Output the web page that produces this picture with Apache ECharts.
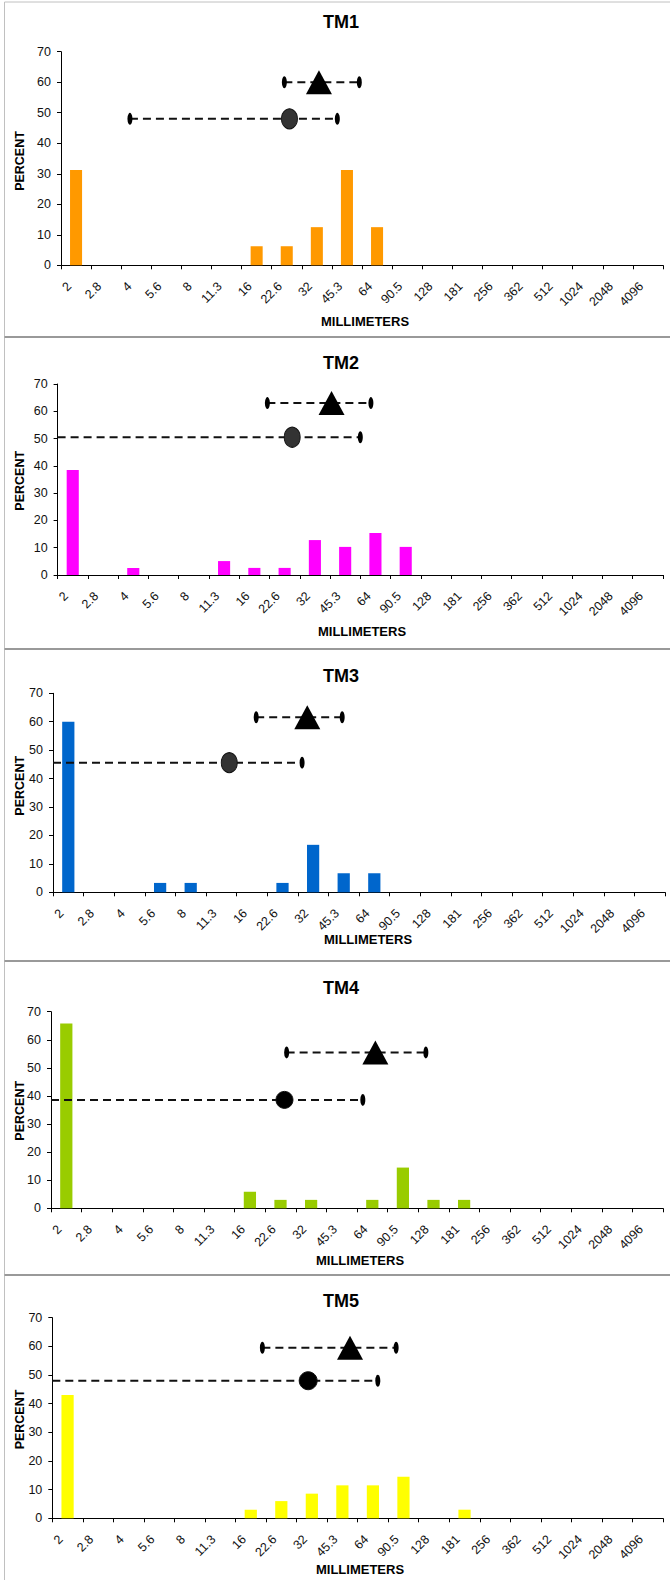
<!DOCTYPE html>
<html>
<head>
<meta charset="utf-8">
<script src="https://cdn.jsdelivr.net/npm/echarts@6/dist/echarts.min.js"></script>
<style>
html,body{margin:0;padding:0;background:#fff;}
#chart{width:670px;height:1580px;}
</style>
</head>
<body>
<div id="chart"></div>
<script>
// ---------- DATA ----------
const categories = ['2','2.8','4','5.6','8','11.3','16','22.6','32','45.3','64','90.5','128','181','256','362','512','1024','2048','4096'];
const panelTitles = ['TM1','TM2','TM3','TM4','TM5'];
const yAxisTitle = 'PERCENT';
const xAxisTitle = 'MILLIMETERS';

const tm1Percent = [31.25,0,0,0,0,0,6.25,6.25,12.5,31.25,12.5,0,0,0,0,0,0,0,0,0];
const tm2Percent = [38.5,0,2.6,0,0,5.1,2.6,2.6,12.8,10.3,15.4,10.3,0,0,0,0,0,0,0,0];
const tm3Percent = [60,0,0,3.3,3.3,0,0,3.3,16.7,6.7,6.7,0,0,0,0,0,0,0,0,0];
const tm4Percent = [65.8,0,0,0,0,0,5.9,3.0,3.0,0,3.0,14.5,3.0,3.0,0,0,0,0,0,0];
const tm5Percent = [43.0,0,0,0,0,0,3.0,6.0,8.6,11.5,11.5,14.5,0,3.0,0,0,0,0,0,0];

// markers: [position in size-class units along the axis, percent]
const tm1Triangle = [8.57, 60.0];  const tm1TriangleRange = [7.42, 9.91];
const tm1Circle   = [7.59, 48.0];  const tm1CircleRange   = [2.29, 9.18];
const tm2Triangle = [9.05, 63.0];  const tm2TriangleRange = [6.93, 10.35];
const tm2Circle   = [7.75, 50.5];  const tm2CircleRange   = [0, 10.0];
const tm3Triangle = [8.31, 61.6];  const tm3TriangleRange = [6.64, 9.45];
const tm3Circle   = [5.76, 45.6];  const tm3CircleRange   = [0, 8.14];
const tm4Triangle = [10.6, 55.5];  const tm4TriangleRange = [7.7, 12.25];
const tm4Circle   = [7.63, 38.6];  const tm4CircleRange   = [0, 10.19];
const tm5Triangle = [9.75, 59.5];  const tm5TriangleRange = [6.88, 11.26];
const tm5Circle   = [8.38, 48.0];  const tm5CircleRange   = [0, 10.66];

// ---------- STYLE / LAYOUT ----------
const percentSets = [tm1Percent, tm2Percent, tm3Percent, tm4Percent, tm5Percent];
const triangles = [tm1Triangle, tm2Triangle, tm3Triangle, tm4Triangle, tm5Triangle];
const triangleRanges = [tm1TriangleRange, tm2TriangleRange, tm3TriangleRange, tm4TriangleRange, tm5TriangleRange];
const circles = [tm1Circle, tm2Circle, tm3Circle, tm4Circle, tm5Circle];
const circleRanges = [tm1CircleRange, tm2CircleRange, tm3CircleRange, tm4CircleRange, tm5CircleRange];

const barColors = ['#FF9900','#FF00FF','#0066CC','#99CC00','#FFFF00'];
const circleColors = ['#333333','#333333','#333333','#000000','#000000'];
const circleSizes = [[16,20],[16,20],[16,20],[17,17],[18,18]];
const layout = [
  {left:61,   top:51.7,   width:602,   height:213.6, titleY:22,     yNameY:161,    xNameX:365, xNameY:321.7},
  {left:57.6, top:384,    width:605.4, height:191,   titleY:363.3,  yNameY:480.8,  xNameX:362, xNameY:631.7},
  {left:53,   top:693.3,  width:612,   height:199,   titleY:675.5,  yNameY:785.8,  xNameX:368, xNameY:939.3},
  {left:51,   top:1011.7, width:612,   height:196.6, titleY:988,    yNameY:1110.8, xNameX:360, xNameY:1260},
  {left:52.3, top:1317.7, width:610.7, height:200.6, titleY:1300.8, yNameY:1419.5, xNameX:360, xNameY:1569}
];
const FONT = '"Liberation Sans", Arial, sans-serif';

const grids = [], xAxes = [], yAxes = [], series = [], graphics = [];

layout.forEach((L, i) => {
  grids.push({left:L.left, top:L.top, width:L.width, height:L.height, containLabel:false});
  // category axis
  xAxes.push({
    type:'category', gridIndex:i, data:categories, boundaryGap:true,
    axisLine:{show:true, lineStyle:{color:'#000', width:1}},
    axisTick:{show:true, alignWithLabel:false, length:4, lineStyle:{color:'#000'}},
    axisLabel:{interval:0, rotate:45, margin:21.5, fontSize:12.5, color:'#111', fontFamily:FONT,
               verticalAlign:'bottom', padding:[0,3,0,0]},
    splitLine:{show:false}
  });
  // hidden value axis for markers (same extent as categories)
  xAxes.push({
    type:'value', gridIndex:i, min:0, max:20, show:false, splitLine:{show:false}
  });
  yAxes.push({
    type:'value', gridIndex:i, min:0, max:70, interval:10,
    axisLine:{show:true, lineStyle:{color:'#000', width:1}},
    axisTick:{show:true, length:4, lineStyle:{color:'#000'}},
    axisLabel:{margin:10, fontSize:12.5, color:'#111', fontFamily:FONT},
    splitLine:{show:false}
  });

  series.push({
    type:'bar', xAxisIndex:2*i, yAxisIndex:i, data:percentSets[i],
    barWidth:'40%', itemStyle:{color:barColors[i]}, silent:true, z:2
  });

  const dash = {color:'#111', width:2, type:[8,5]};
  const addRange = (range, yv) => {
    series.push({
      type:'line', xAxisIndex:2*i+1, yAxisIndex:i,
      data:[[range[0], yv],[range[1], yv]],
      showSymbol:false, symbol:'none', lineStyle:dash, silent:true, z:3, clip:false
    });
    const caps = range.filter(v => v > 0).map(v => [v, yv]);
    series.push({
      type:'scatter', xAxisIndex:2*i+1, yAxisIndex:i, data:caps,
      symbol:'circle', symbolSize:[5,12], itemStyle:{color:'#000', opacity:1}, silent:true, z:4
    });
  };
  addRange(triangleRanges[i], triangles[i][1]);
  addRange(circleRanges[i], circles[i][1]);

  series.push({
    type:'scatter', xAxisIndex:2*i+1, yAxisIndex:i, data:[triangles[i]],
    symbol:'triangle', symbolSize:[26,24], itemStyle:{color:'#000', opacity:1}, silent:true, z:5
  });
  series.push({
    type:'scatter', xAxisIndex:2*i+1, yAxisIndex:i, data:[circles[i]],
    symbol:'circle', symbolSize:circleSizes[i], itemStyle:{color:circleColors[i], opacity:1, borderColor:'#111', borderWidth:1}, silent:true, z:5
  });

  graphics.push({
    type:'text', x:341, y:L.titleY,
    style:{text:panelTitles[i], font:'bold 18px ' + FONT, fill:'#000', align:'center', verticalAlign:'middle'}
  });
  graphics.push({
    type:'text', x:19.5, y:L.yNameY, rotation:Math.PI/2,
    style:{text:yAxisTitle, font:'bold 12.5px ' + FONT, fill:'#000', align:'center', verticalAlign:'middle'}
  });
  graphics.push({
    type:'text', x:L.xNameX, y:L.xNameY,
    style:{text:xAxisTitle, font:'bold 13px ' + FONT, fill:'#000', align:'center', verticalAlign:'middle'}
  });
});

// panel frames
graphics.push({type:'line', shape:{x1:4.5, y1:2, x2:670, y2:2}, style:{stroke:'#c0c0c0', lineWidth:1}});
graphics.push({type:'line', shape:{x1:4.5, y1:2, x2:4.5, y2:1580}, style:{stroke:'#c0c0c0', lineWidth:1}});
[337, 649, 961, 1275].forEach(y => {
  graphics.push({type:'line', shape:{x1:4.5, y1:y, x2:670, y2:y}, style:{stroke:'#999999', lineWidth:2}});
});

const chart = echarts.init(document.getElementById('chart'), null, {renderer:'svg', width:670, height:1580});
chart.setOption({
  animation:false,
  backgroundColor:'#ffffff',
  grid:grids, xAxis:xAxes, yAxis:yAxes, series:series, graphic:graphics
});
</script>
</body>
</html>
